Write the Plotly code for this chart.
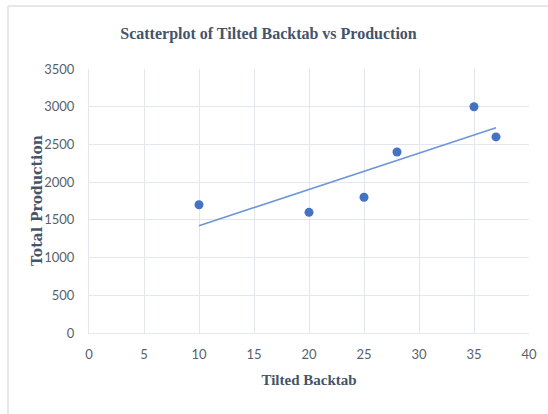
import numpy as np
import plotly.graph_objects as go

# Tilted backtab setting vs total production
tilted_backtab = [10, 20, 25, 28, 35, 37]
total_production = [1700, 1600, 1800, 2400, 3000, 2600]

x_ticks = [0, 5, 10, 15, 20, 25, 30, 35, 40]
y_ticks = [0, 500, 1000, 1500, 2000, 2500, 3000, 3500]

# Least-squares linear trendline over the observed range
slope, intercept = np.polyfit(tilted_backtab, total_production, 1)
trend_x = [min(tilted_backtab), max(tilted_backtab)]
trend_y = [slope * v + intercept for v in trend_x]

grid_col = "#E3E7ED"
tick_font = dict(family="Lato, 'Open Sans', sans-serif", size=13, color="#5A5F68")
serif = "'Liberation Serif', 'DejaVu Serif', serif"

fig = go.Figure()
fig.add_trace(go.Scatter(
    x=trend_x, y=trend_y, mode="lines",
    line=dict(color="#6F96D8", width=1.6),
    hoverinfo="skip", showlegend=False,
))
fig.add_trace(go.Scatter(
    x=tilted_backtab, y=total_production, mode="markers",
    marker=dict(color="#4472C4", size=9, line=dict(width=0)),
    showlegend=False,
))

fig.update_layout(
    width=548, height=414,
    margin=dict(l=89, r=19, t=69, b=81),
    paper_bgcolor="white", plot_bgcolor="white",
    title=dict(
        text="<b>Scatterplot of Tilted Backtab vs Production</b>",
        x=0.49, xanchor="center", y=1 - 33 / 414, yanchor="middle",
        font=dict(family=serif, size=16, color="#44546A"),
    ),
    xaxis=dict(
        range=[0, 40], tickvals=x_ticks, ticktext=[str(v) for v in x_ticks],
        showgrid=True, gridcolor=grid_col, gridwidth=1,
        zeroline=False, showline=True, linecolor=grid_col, linewidth=1,
        ticks="", ticklabelstandoff=9, tickfont=tick_font,
        title=dict(text="<b>Tilted Backtab</b>",
                   font=dict(family=serif, size=15, color="#44546A"), standoff=13),
        fixedrange=True,
    ),
    yaxis=dict(
        range=[0, 3500], tickvals=y_ticks, ticktext=[str(v) for v in y_ticks],
        showgrid=True, gridcolor=grid_col, gridwidth=1,
        zeroline=False, showline=True, linecolor=grid_col, linewidth=1,
        ticks="", ticklabelstandoff=11, tickfont=tick_font,
        fixedrange=True,
    ),
    annotations=[
        # vertical axis title
        dict(text="<b>Total Production</b>", textangle=-90,
             xref="paper", yref="paper", x=(37 - 89) / 440, y=0.5,
             xanchor="center", yanchor="middle", showarrow=False,
             font=dict(family="'DejaVu Serif', serif", size=14, color="#44546A")),
    ],
    shapes=[
        # chart frame (top and left edges visible)
        dict(type="line", xref="paper", yref="paper",
             x0=(8 - 89) / 440, x1=(560 - 89) / 440,
             y0=(333 - 6) / 264, y1=(333 - 6) / 264,
             line=dict(color="#E4E7EB", width=2)),
        dict(type="line", xref="paper", yref="paper",
             x0=(8 - 89) / 440, x1=(8 - 89) / 440,
             y0=(333 - 6) / 264, y1=(333 - 420) / 264,
             line=dict(color="#E4E7EB", width=2)),
    ],
)

fig.write_html("out.html")
